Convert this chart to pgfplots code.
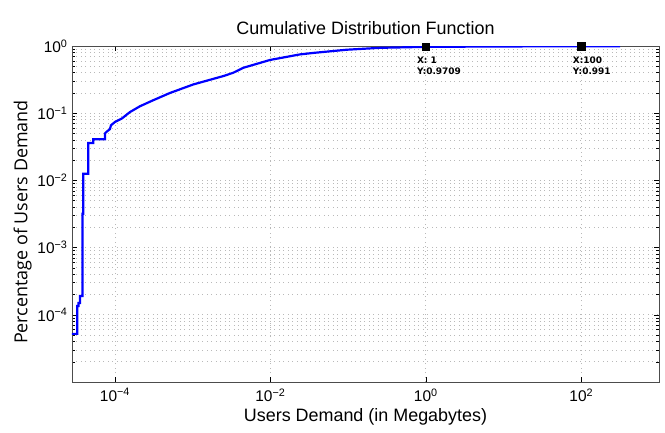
\documentclass[border=0pt]{standalone}
\usepackage{fontspec}
\setmainfont{Liberation Sans}
\newfontfamily\ylabfont{Open Sans}
\newfontfamily\tipfont{DejaVu Sans}
\usepackage{pgfplots}
\pgfplotsset{compat=1.18}

\begin{document}
\begin{tikzpicture}
\begin{loglogaxis}[
    scale only axis,
    width=587bp, height=336bp,
    xmin=2.8e-5, xmax=1e3,
    ymin=1e-5, ymax=1,
    xtick={1e-4,1e-2,1,1e2},
    xticklabels={10\textsuperscript{−4},10\textsuperscript{−2},10\textsuperscript{0},10\textsuperscript{2}},
    minor xtick={},
    ytick={1e-4,1e-3,1e-2,1e-1,1},
    yticklabels={10\textsuperscript{−4},10\textsuperscript{−3},10\textsuperscript{−2},10\textsuperscript{−1},10\textsuperscript{0}},
    minor ytick={2e-5,3e-5,4e-5,5e-5,6e-5,7e-5,8e-5,9e-5,
                 2e-4,3e-4,4e-4,5e-4,6e-4,7e-4,8e-4,9e-4,
                 2e-3,3e-3,4e-3,5e-3,6e-3,7e-3,8e-3,9e-3,
                 2e-2,3e-2,4e-2,5e-2,6e-2,7e-2,8e-2,9e-2,
                 0.2,0.3,0.4,0.5,0.6,0.7,0.8,0.9},
    tick align=inside,
    major tick length=5bp, minor tick length=3bp,
    every tick/.style={black, line width=0.5bp},
    axis line style={black!70, line width=0.8bp},
    xmajorgrids, ymajorgrids, yminorgrids,
    major grid style={gray!55, line width=0.7bp, dash pattern=on 0.9bp off 3.6bp},
    minor grid style={gray!55, line width=0.7bp, dash pattern=on 0.9bp off 3.6bp},
    tick label style={font=\fontsize{15.5}{18}\selectfont},
    xticklabel style={yshift=-3bp},
    yticklabel style={xshift=-1bp},
    title={Cumulative Distribution Function},
    title style={font=\fontsize{18}{21}\selectfont, yshift=2bp},
    xlabel={Users Demand (in Megabytes)},
    xlabel style={font=\fontsize{18}{21}\selectfont, yshift=0bp},
    ylabel={Percentage of Users Demand},
    ylabel style={font=\ylabfont\fontsize{18}{21}\selectfont, yshift=-1bp, xshift=-8bp},
]
\addplot[blue, line width=2.2bp] coordinates {
    (2.8e-5, 5.2e-5)
    (3.27e-5, 5.2e-5)
    (3.27e-5, 1.35e-4)
    (3.39e-5, 1.35e-4)
    (3.39e-5, 1.5e-4)
    (3.55e-5, 1.5e-4)
    (3.55e-5, 1.9e-4)
    (3.82e-5, 1.9e-4)
    (3.82e-5, 3.2e-3)
    (3.91e-5, 3.2e-3)
    (3.91e-5, 1.26e-2)
    (4.53e-5, 1.26e-2)
    (4.53e-5, 0.036)
    (5.26e-5, 0.036)
    (5.26e-5, 0.041)
    (7.43e-5, 0.041)
    (7.43e-5, 0.050)
    (7.82e-5, 0.053)
    (8.62e-5, 0.058)
    (8.88e-5, 0.066)
    (1.0e-4, 0.074)
    (1.22e-4, 0.083)
    (1.56e-4, 0.104)
    (2.1e-4, 0.127)
    (3.11e-4, 0.156)
    (5.1e-4, 0.200)
    (1.02e-3, 0.268)
    (2.48e-3, 0.357)
    (3.33e-3, 0.400)
    (4.48e-3, 0.474)
    (9.9e-3, 0.620)
    (0.024, 0.750)
    (0.036, 0.790)
    (0.096, 0.880)
    (0.26, 0.940)
    (1, 0.9709)
    (10, 0.985)
    (100, 0.991)
    (316, 0.993)
};
\addplot[only marks, mark=square*, mark size=3.6bp, black] coordinates {
    (1, 0.9709)
    (100, 0.991)
};
\node[anchor=north west, inner sep=0pt, align=left,
      font=\tipfont\bfseries\fontsize{9}{11}\selectfont,
      xshift=-9bp, yshift=-10bp] at (axis cs:1,0.9709) {X: 1\\Y:0.9709};
\node[anchor=north west, inner sep=0pt, align=left,
      font=\tipfont\bfseries\fontsize{9}{11}\selectfont,
      xshift=-8.5bp, yshift=-10bp] at (axis cs:100,0.991) {X:100\\Y:0.991};
\end{loglogaxis}
\path ([shift={(-72bp,-51bp)}]current axis.south west) rectangle ([shift={(6bp,46bp)}]current axis.north east);
\end{tikzpicture}
\end{document}
